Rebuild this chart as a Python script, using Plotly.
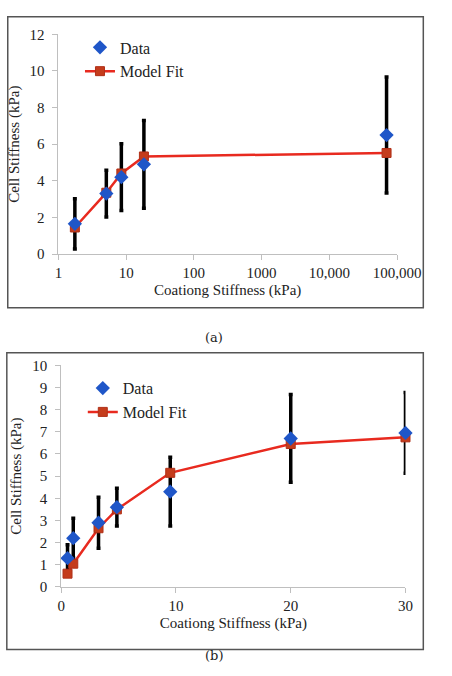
import plotly.graph_objects as go

# Panel (a): log x
xa = [1.75, 5.1, 8.5, 18.3, 70000]
ya_data = [1.65, 3.3, 4.2, 4.9, 6.5]
ya_err = [1.37, 1.28, 1.82, 2.4, 3.17]
ya_model = [1.45, 3.35, 4.4, 5.33, 5.52]

# Panel (b): linear x
xb = [0.55, 1.05, 3.25, 4.85, 9.5, 20, 30]
yb_data = [1.3, 2.2, 2.9, 3.6, 4.3, 6.7, 6.95]
yb_err = [0.6, 0.9, 1.15, 0.85, 1.55, 1.98, 1.82]
yb_model = [0.6, 1.05, 2.65, 3.5, 5.15, 6.45, 6.75]

xa_ticks = [1, 10, 100, 1000, 10000, 100000]
xa_labels = ["1", "10", "100", "1000", "10,000", "100,000"]

W, H = 452, 676
FONT = "'Liberation Serif', 'Times New Roman', 'DejaVu Serif', serif"
BLUE = "#1f56c8"
RED = "#e82a1f"
SQ = "#c43c1c"

fig = go.Figure()

def add_panel(x, yd, err, ym, xax, yax, legend):
    fig.add_trace(go.Scatter(x=x, y=yd, mode="markers", xaxis=xax, yaxis=yax,
                             marker=dict(size=1, color="rgba(0,0,0,0)"),
                             error_y=dict(type="data", array=err, visible=True,
                                          color="black", thickness=3.5, width=2),
                             showlegend=False, hoverinfo="skip", cliponaxis=False))
    fig.add_trace(go.Scatter(x=x, y=ym, mode="lines+markers", name="Model Fit",
                             xaxis=xax, yaxis=yax, legend=legend, cliponaxis=False,
                             line=dict(color=RED, width=2.5),
                             marker=dict(symbol="square", size=9, color=SQ,
                                         line=dict(color="#b03018", width=1))))
    fig.add_trace(go.Scatter(x=x, y=yd, mode="markers", name="Data",
                             xaxis=xax, yaxis=yax, legend=legend, cliponaxis=False,
                             marker=dict(symbol="diamond", size=11, color=BLUE,
                                         line=dict(width=0))))

add_panel(xa, ya_data, ya_err, ya_model, "x", "y", "legend")
add_panel(xb, yb_data, yb_err, yb_model, "x2", "y2", "legend2")

axis_common = dict(showgrid=False, zeroline=False, showline=True,
                   linecolor="#bfbfbf", linewidth=1, ticks="outside",
                   tickcolor="#bfbfbf", ticklen=5,
                   tickfont=dict(family=FONT, size=15, color="#222"))

fig.update_layout(
    width=W, height=H,
    margin=dict(l=0, r=0, t=0, b=0),
    paper_bgcolor="white", plot_bgcolor="white",
    font=dict(family=FONT, size=15, color="#222"),
    xaxis=dict(type="log", range=[0, 5], domain=[58/W, 419/W],
               tickvals=xa_ticks, ticktext=xa_labels, anchor="y",
               title=dict(text="Coationg Stiffness (kPa)", font=dict(family=FONT, size=15), standoff=4),
               **axis_common),
    yaxis=dict(range=[0, 12], domain=[1-252/H, 1-27/H], dtick=2, anchor="x",
               ticklabelstandoff=5,
               title=dict(text="Cell Stiffness (kPa)", font=dict(family=FONT, size=15), standoff=6),
               **axis_common),
    xaxis2=dict(range=[0, 30], domain=[61/W, 428/W], dtick=10, anchor="y2",
                title=dict(text="Coationg Stiffness (kPa)", font=dict(family=FONT, size=15), standoff=4),
                **axis_common),
    yaxis2=dict(range=[0, 10], domain=[1-593/H, 1-366/H], dtick=1, anchor="x2",
                ticklabelstandoff=5,
                title=dict(text="Cell Stiffness (kPa)", font=dict(family=FONT, size=15), standoff=6),
                **axis_common),
    legend=dict(x=81/W, y=1-23/H, xanchor="left", yanchor="top",
                bgcolor="rgba(0,0,0,0)", font=dict(family=FONT, size=16),
                traceorder="reversed", itemwidth=30),
    legend2=dict(x=84/W, y=1-372/H, xanchor="left", yanchor="top",
                 bgcolor="rgba(0,0,0,0)", font=dict(family=FONT, size=16),
                 traceorder="reversed", itemwidth=30),
    shapes=[
        dict(type="rect", xref="paper", yref="paper", x0=4/W, x1=447/W,
             y0=1-307/H, y1=1-9/H, line=dict(color="#555", width=1.5)),
        dict(type="rect", xref="paper", yref="paper", x0=3/W, x1=447/W,
             y0=1-657/H, y1=1-353/H, line=dict(color="#555", width=1.5)),
    ],
    annotations=[
        dict(text="(a)", xref="paper", yref="paper", x=224/W, y=1-337/H,
             showarrow=False, font=dict(family="DejaVu Serif", size=13, color="#222")),
        dict(text="(b)", xref="paper", yref="paper", x=224/W, y=1-673/H,
             showarrow=False, font=dict(family="DejaVu Serif", size=13, color="#222")),
    ],
)

fig.write_html("out.html")
